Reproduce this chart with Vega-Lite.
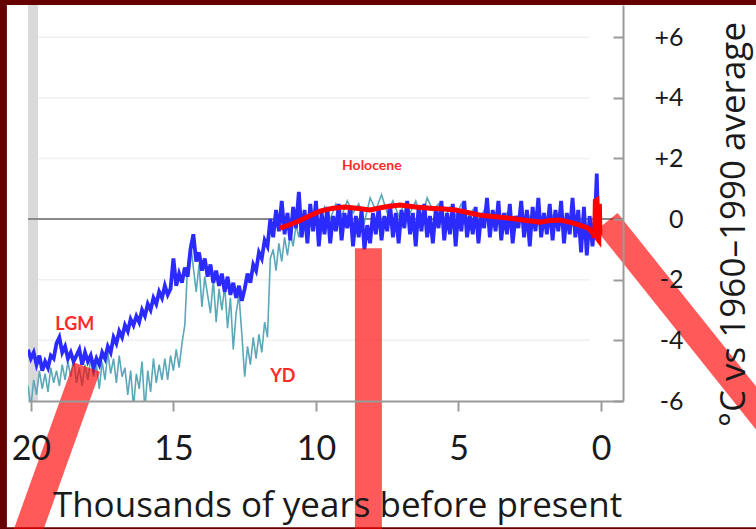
{
  "$schema": "https://vega.github.io/schema/vega-lite/v6.json",
  "width": 595,
  "height": 396,
  "autosize": "none",
  "padding": {"left": 28, "top": 5, "right": 133, "bottom": 128},
  "background": "#650000",
  "config": {"view": {"stroke": null}, "font": "Lato"},
  "data": {"values": [{}]},
  "datasets": {
    "blue": [
      {"kyr": 20.1, "temp": -4.3}, {"kyr": 20.0, "temp": -4.6}, {"kyr": 19.9, "temp": -4.4}, {"kyr": 19.8, "temp": -4.8}, {"kyr": 19.7, "temp": -4.5},
      {"kyr": 19.6, "temp": -5.0}, {"kyr": 19.5, "temp": -4.7}, {"kyr": 19.4, "temp": -4.9}, {"kyr": 19.3, "temp": -4.5}, {"kyr": 19.2, "temp": -4.6},
      {"kyr": 19.1, "temp": -4.1}, {"kyr": 19.0, "temp": -3.9}, {"kyr": 18.9, "temp": -4.4}, {"kyr": 18.8, "temp": -4.2}, {"kyr": 18.7, "temp": -4.6},
      {"kyr": 18.6, "temp": -4.4}, {"kyr": 18.5, "temp": -4.7}, {"kyr": 18.4, "temp": -4.5}, {"kyr": 18.3, "temp": -4.3}, {"kyr": 18.2, "temp": -4.8},
      {"kyr": 18.1, "temp": -4.4}, {"kyr": 18.0, "temp": -4.7}, {"kyr": 17.9, "temp": -4.5}, {"kyr": 17.8, "temp": -4.9}, {"kyr": 17.7, "temp": -4.6},
      {"kyr": 17.6, "temp": -4.8}, {"kyr": 17.5, "temp": -4.4}, {"kyr": 17.4, "temp": -4.6}, {"kyr": 17.3, "temp": -4.2}, {"kyr": 17.2, "temp": -4.4},
      {"kyr": 17.1, "temp": -3.9}, {"kyr": 17.0, "temp": -4.1}, {"kyr": 16.9, "temp": -3.7}, {"kyr": 16.8, "temp": -3.9}, {"kyr": 16.7, "temp": -3.5},
      {"kyr": 16.6, "temp": -3.7}, {"kyr": 16.5, "temp": -3.3}, {"kyr": 16.4, "temp": -3.5}, {"kyr": 16.3, "temp": -3.2}, {"kyr": 16.2, "temp": -3.4},
      {"kyr": 16.1, "temp": -3.0}, {"kyr": 16.0, "temp": -3.2}, {"kyr": 15.9, "temp": -2.8}, {"kyr": 15.8, "temp": -3.0}, {"kyr": 15.7, "temp": -2.6},
      {"kyr": 15.6, "temp": -2.8}, {"kyr": 15.5, "temp": -2.4}, {"kyr": 15.4, "temp": -2.6}, {"kyr": 15.3, "temp": -2.2}, {"kyr": 15.2, "temp": -2.5},
      {"kyr": 15.1, "temp": -2.3}, {"kyr": 15.0, "temp": -1.3}, {"kyr": 14.9, "temp": -2.2}, {"kyr": 14.8, "temp": -1.8}, {"kyr": 14.7, "temp": -2.1},
      {"kyr": 14.6, "temp": -1.6}, {"kyr": 14.5, "temp": -1.9}, {"kyr": 14.4, "temp": -1.0}, {"kyr": 14.3, "temp": -0.5}, {"kyr": 14.2, "temp": -1.4},
      {"kyr": 14.1, "temp": -1.1}, {"kyr": 14.0, "temp": -1.7}, {"kyr": 13.9, "temp": -1.3}, {"kyr": 13.8, "temp": -1.9}, {"kyr": 13.7, "temp": -1.5},
      {"kyr": 13.6, "temp": -2.1}, {"kyr": 13.5, "temp": -1.7}, {"kyr": 13.4, "temp": -2.2}, {"kyr": 13.3, "temp": -1.8}, {"kyr": 13.2, "temp": -2.4},
      {"kyr": 13.1, "temp": -1.9}, {"kyr": 13.0, "temp": -2.5}, {"kyr": 12.9, "temp": -2.1}, {"kyr": 12.8, "temp": -2.6}, {"kyr": 12.7, "temp": -2.2},
      {"kyr": 12.6, "temp": -2.7}, {"kyr": 12.5, "temp": -2.3}, {"kyr": 12.4, "temp": -1.8}, {"kyr": 12.3, "temp": -2.1}, {"kyr": 12.2, "temp": -1.5},
      {"kyr": 12.1, "temp": -1.7}, {"kyr": 12.0, "temp": -1.1}, {"kyr": 11.9, "temp": -1.3}, {"kyr": 11.8, "temp": -0.7}, {"kyr": 11.7, "temp": -0.9},
      {"kyr": 11.6, "temp": 0.0}, {"kyr": 11.5, "temp": -0.6}, {"kyr": 11.4, "temp": 0.3}, {"kyr": 11.3, "temp": -0.4}, {"kyr": 11.2, "temp": 0.6},
      {"kyr": 11.1, "temp": -0.5}, {"kyr": 11.0, "temp": 0.2}, {"kyr": 10.9, "temp": -0.7}, {"kyr": 10.8, "temp": 0.4}, {"kyr": 10.7, "temp": -0.3},
      {"kyr": 10.6, "temp": 0.9}, {"kyr": 10.5, "temp": -0.6}, {"kyr": 10.4, "temp": 0.3}, {"kyr": 10.3, "temp": -0.8}, {"kyr": 10.2, "temp": 0.5},
      {"kyr": 10.1, "temp": -0.4}, {"kyr": 10.0, "temp": 0.6}, {"kyr": 9.9, "temp": -0.9}, {"kyr": 9.8, "temp": 0.2}, {"kyr": 9.7, "temp": -0.5},
      {"kyr": 9.6, "temp": 0.4}, {"kyr": 9.5, "temp": -0.8}, {"kyr": 9.4, "temp": 0.1}, {"kyr": 9.3, "temp": -0.4}, {"kyr": 9.2, "temp": 0.5},
      {"kyr": 9.1, "temp": -0.7}, {"kyr": 9.0, "temp": 0.2}, {"kyr": 8.9, "temp": -0.3}, {"kyr": 8.8, "temp": 0.4}, {"kyr": 8.7, "temp": -0.9},
      {"kyr": 8.6, "temp": 0.1}, {"kyr": 8.5, "temp": -0.6}, {"kyr": 8.4, "temp": 0.3}, {"kyr": 8.3, "temp": -1.0}, {"kyr": 8.2, "temp": -0.2},
      {"kyr": 8.1, "temp": -0.8}, {"kyr": 8.0, "temp": 0.2}, {"kyr": 7.9, "temp": -0.5}, {"kyr": 7.8, "temp": 0.4}, {"kyr": 7.7, "temp": -0.7},
      {"kyr": 7.6, "temp": 0.1}, {"kyr": 7.5, "temp": -0.4}, {"kyr": 7.4, "temp": 0.5}, {"kyr": 7.3, "temp": -0.6}, {"kyr": 7.2, "temp": 0.2},
      {"kyr": 7.1, "temp": -0.8}, {"kyr": 7.0, "temp": 0.3}, {"kyr": 6.9, "temp": -0.3}, {"kyr": 6.8, "temp": 0.6}, {"kyr": 6.7, "temp": -0.5},
      {"kyr": 6.6, "temp": 0.2}, {"kyr": 6.5, "temp": -0.9}, {"kyr": 6.4, "temp": 0.4}, {"kyr": 6.3, "temp": -0.4}, {"kyr": 6.2, "temp": 0.5},
      {"kyr": 6.1, "temp": -0.6}, {"kyr": 6.0, "temp": 0.1}, {"kyr": 5.9, "temp": -0.8}, {"kyr": 5.8, "temp": 0.3}, {"kyr": 5.7, "temp": -0.3},
      {"kyr": 5.6, "temp": 0.6}, {"kyr": 5.5, "temp": -0.7}, {"kyr": 5.4, "temp": 0.2}, {"kyr": 5.3, "temp": -0.5}, {"kyr": 5.2, "temp": 0.5},
      {"kyr": 5.1, "temp": -0.9}, {"kyr": 5.0, "temp": 0.3}, {"kyr": 4.9, "temp": -0.4}, {"kyr": 4.8, "temp": 0.6}, {"kyr": 4.7, "temp": -0.6},
      {"kyr": 4.6, "temp": 0.1}, {"kyr": 4.5, "temp": -0.5}, {"kyr": 4.4, "temp": 0.4}, {"kyr": 4.3, "temp": -0.8}, {"kyr": 4.2, "temp": 0.2},
      {"kyr": 4.1, "temp": -0.3}, {"kyr": 4.0, "temp": 0.7}, {"kyr": 3.9, "temp": -0.6}, {"kyr": 3.8, "temp": 0.3}, {"kyr": 3.7, "temp": -0.4},
      {"kyr": 3.6, "temp": 0.6}, {"kyr": 3.5, "temp": -0.7}, {"kyr": 3.4, "temp": 0.2}, {"kyr": 3.3, "temp": -0.5}, {"kyr": 3.2, "temp": 0.5},
      {"kyr": 3.1, "temp": -0.8}, {"kyr": 3.0, "temp": 0.1}, {"kyr": 2.9, "temp": -0.3}, {"kyr": 2.8, "temp": 0.6}, {"kyr": 2.7, "temp": -0.6},
      {"kyr": 2.6, "temp": 0.3}, {"kyr": 2.5, "temp": -0.9}, {"kyr": 2.4, "temp": 0.4}, {"kyr": 2.3, "temp": -0.4}, {"kyr": 2.2, "temp": 0.7},
      {"kyr": 2.1, "temp": -0.6}, {"kyr": 2.0, "temp": 0.2}, {"kyr": 1.9, "temp": -0.5}, {"kyr": 1.8, "temp": 0.5}, {"kyr": 1.7, "temp": -0.7},
      {"kyr": 1.6, "temp": 0.3}, {"kyr": 1.5, "temp": -0.4}, {"kyr": 1.4, "temp": 0.6}, {"kyr": 1.3, "temp": -0.8}, {"kyr": 1.2, "temp": 0.2},
      {"kyr": 1.1, "temp": -0.5}, {"kyr": 1.0, "temp": 0.7}, {"kyr": 0.9, "temp": -0.6}, {"kyr": 0.8, "temp": 0.3}, {"kyr": 0.7, "temp": -1.1},
      {"kyr": 0.6, "temp": 0.4}, {"kyr": 0.5, "temp": -1.2}, {"kyr": 0.4, "temp": 0.1}, {"kyr": 0.3, "temp": -0.9}, {"kyr": 0.2, "temp": 0.3},
      {"kyr": 0.15, "temp": 1.5}, {"kyr": 0.1, "temp": -0.4}, {"kyr": 0.05, "temp": 0.5}
    ],
    "teal": [
      {"kyr": 20.1, "temp": -5.5}, {"kyr": 20.0, "temp": -6.2}, {"kyr": 19.9, "temp": -5.3}, {"kyr": 19.8, "temp": -5.8}, {"kyr": 19.7, "temp": -5.0},
      {"kyr": 19.6, "temp": -5.6}, {"kyr": 19.5, "temp": -5.1}, {"kyr": 19.4, "temp": -5.7}, {"kyr": 19.3, "temp": -4.9}, {"kyr": 19.2, "temp": -5.4},
      {"kyr": 19.1, "temp": -5.0}, {"kyr": 19.0, "temp": -5.5}, {"kyr": 18.9, "temp": -4.8}, {"kyr": 18.8, "temp": -5.3}, {"kyr": 18.7, "temp": -4.7},
      {"kyr": 18.6, "temp": -5.2}, {"kyr": 18.5, "temp": -4.6}, {"kyr": 18.4, "temp": -5.4}, {"kyr": 18.3, "temp": -4.9}, {"kyr": 18.2, "temp": -5.5},
      {"kyr": 18.1, "temp": -4.8}, {"kyr": 18.0, "temp": -5.3}, {"kyr": 17.9, "temp": -4.6}, {"kyr": 17.8, "temp": -5.2}, {"kyr": 17.7, "temp": -4.8},
      {"kyr": 17.6, "temp": -5.6}, {"kyr": 17.5, "temp": -4.7}, {"kyr": 17.4, "temp": -5.3}, {"kyr": 17.3, "temp": -4.4}, {"kyr": 17.2, "temp": -5.1},
      {"kyr": 17.1, "temp": -4.6}, {"kyr": 17.0, "temp": -5.4}, {"kyr": 16.9, "temp": -4.5}, {"kyr": 16.8, "temp": -5.2}, {"kyr": 16.7, "temp": -4.9},
      {"kyr": 16.6, "temp": -5.8}, {"kyr": 16.5, "temp": -5.0}, {"kyr": 16.4, "temp": -6.2}, {"kyr": 16.3, "temp": -5.1}, {"kyr": 16.2, "temp": -5.6},
      {"kyr": 16.1, "temp": -4.7}, {"kyr": 16.0, "temp": -6.3}, {"kyr": 15.9, "temp": -5.0}, {"kyr": 15.8, "temp": -5.7}, {"kyr": 15.7, "temp": -4.6},
      {"kyr": 15.6, "temp": -5.4}, {"kyr": 15.5, "temp": -4.8}, {"kyr": 15.4, "temp": -5.3}, {"kyr": 15.3, "temp": -4.6}, {"kyr": 15.2, "temp": -5.3},
      {"kyr": 15.1, "temp": -4.5}, {"kyr": 15.0, "temp": -5.0}, {"kyr": 14.9, "temp": -4.3}, {"kyr": 14.8, "temp": -4.9}, {"kyr": 14.7, "temp": -4.1},
      {"kyr": 14.6, "temp": -3.5}, {"kyr": 14.5, "temp": -1.5}, {"kyr": 14.4, "temp": -0.8}, {"kyr": 14.3, "temp": -1.6}, {"kyr": 14.2, "temp": -2.4},
      {"kyr": 14.1, "temp": -1.5}, {"kyr": 14.0, "temp": -2.9}, {"kyr": 13.9, "temp": -1.9}, {"kyr": 13.8, "temp": -2.5}, {"kyr": 13.7, "temp": -3.1},
      {"kyr": 13.6, "temp": -2.0}, {"kyr": 13.5, "temp": -3.4}, {"kyr": 13.4, "temp": -2.3}, {"kyr": 13.3, "temp": -3.0}, {"kyr": 13.2, "temp": -2.2},
      {"kyr": 13.1, "temp": -3.6}, {"kyr": 13.0, "temp": -2.6}, {"kyr": 12.9, "temp": -4.3}, {"kyr": 12.8, "temp": -3.1}, {"kyr": 12.7, "temp": -2.5},
      {"kyr": 12.6, "temp": -3.8}, {"kyr": 12.5, "temp": -5.2}, {"kyr": 12.4, "temp": -4.2}, {"kyr": 12.3, "temp": -4.8}, {"kyr": 12.2, "temp": -3.9},
      {"kyr": 12.1, "temp": -4.6}, {"kyr": 12.0, "temp": -3.8}, {"kyr": 11.9, "temp": -4.4}, {"kyr": 11.8, "temp": -3.4}, {"kyr": 11.7, "temp": -3.9},
      {"kyr": 11.6, "temp": -1.3}, {"kyr": 11.5, "temp": -1.0}, {"kyr": 11.4, "temp": -1.7}, {"kyr": 11.3, "temp": -0.8}, {"kyr": 11.2, "temp": -1.4},
      {"kyr": 11.1, "temp": -0.6}, {"kyr": 11.0, "temp": -1.2}, {"kyr": 10.9, "temp": -0.5}, {"kyr": 10.8, "temp": -0.9}, {"kyr": 10.7, "temp": -0.2},
      {"kyr": 10.6, "temp": -0.6}, {"kyr": 10.5, "temp": 0.0}, {"kyr": 10.3, "temp": -0.4}, {"kyr": 10.1, "temp": 0.2}, {"kyr": 9.9, "temp": -0.2},
      {"kyr": 9.7, "temp": 0.4}, {"kyr": 9.5, "temp": 0.0}, {"kyr": 9.3, "temp": 0.5}, {"kyr": 9.1, "temp": 0.1}, {"kyr": 8.9, "temp": 0.6},
      {"kyr": 8.7, "temp": 0.2}, {"kyr": 8.5, "temp": 0.5}, {"kyr": 8.3, "temp": -0.1}, {"kyr": 8.1, "temp": 0.7}, {"kyr": 7.9, "temp": 0.3},
      {"kyr": 7.7, "temp": 0.8}, {"kyr": 7.5, "temp": 0.2}, {"kyr": 7.3, "temp": 0.6}, {"kyr": 7.1, "temp": 0.1}, {"kyr": 6.9, "temp": 0.5},
      {"kyr": 6.7, "temp": 0.2}, {"kyr": 6.5, "temp": 0.6}, {"kyr": 6.3, "temp": 0.0}, {"kyr": 6.1, "temp": 0.7}, {"kyr": 5.9, "temp": 0.3},
      {"kyr": 5.7, "temp": 0.5}, {"kyr": 5.5, "temp": 0.0}, {"kyr": 5.3, "temp": 0.4}, {"kyr": 5.1, "temp": 0.1}, {"kyr": 4.9, "temp": 0.5},
      {"kyr": 4.7, "temp": 0.0}, {"kyr": 4.5, "temp": 0.3}, {"kyr": 4.3, "temp": -0.1}, {"kyr": 4.1, "temp": 0.3}, {"kyr": 3.9, "temp": -0.2},
      {"kyr": 3.7, "temp": 0.2}, {"kyr": 3.5, "temp": -0.1}, {"kyr": 3.3, "temp": 0.2}, {"kyr": 3.1, "temp": -0.2}, {"kyr": 2.9, "temp": 0.1},
      {"kyr": 2.7, "temp": -0.2}, {"kyr": 2.5, "temp": 0.1}, {"kyr": 2.3, "temp": -0.3}, {"kyr": 2.1, "temp": 0.0}, {"kyr": 1.9, "temp": -0.2},
      {"kyr": 1.7, "temp": 0.1}, {"kyr": 1.5, "temp": -0.3}, {"kyr": 1.3, "temp": 0.0}, {"kyr": 1.1, "temp": -0.3}, {"kyr": 0.9, "temp": -0.1},
      {"kyr": 0.7, "temp": -0.4}, {"kyr": 0.5, "temp": -0.2}, {"kyr": 0.3, "temp": -0.4}
    ],
    "red": [
      {"kyr": 11.26, "temp": -0.3}, {"kyr": 10.9, "temp": -0.18}, {"kyr": 10.56, "temp": -0.05}, {"kyr": 10.2, "temp": 0.12}, {"kyr": 9.86, "temp": 0.26},
      {"kyr": 9.4, "temp": 0.36}, {"kyr": 9.0, "temp": 0.4}, {"kyr": 8.5, "temp": 0.35}, {"kyr": 8.1, "temp": 0.3}, {"kyr": 7.6, "temp": 0.4},
      {"kyr": 7.05, "temp": 0.46}, {"kyr": 6.5, "temp": 0.4}, {"kyr": 6.0, "temp": 0.36}, {"kyr": 5.5, "temp": 0.33}, {"kyr": 5.1, "temp": 0.3},
      {"kyr": 4.6, "temp": 0.2}, {"kyr": 4.25, "temp": 0.13}, {"kyr": 3.7, "temp": 0.08}, {"kyr": 3.2, "temp": 0.03}, {"kyr": 2.6, "temp": -0.05},
      {"kyr": 2.14, "temp": -0.1}, {"kyr": 1.8, "temp": -0.05}, {"kyr": 1.44, "temp": -0.03}, {"kyr": 1.1, "temp": -0.1}, {"kyr": 0.74, "temp": -0.2},
      {"kyr": 0.45, "temp": -0.3}, {"kyr": 0.3, "temp": -0.45}, {"kyr": 0.22, "temp": -0.6}, {"kyr": 0.2, "temp": 0.6}, {"kyr": 0.15, "temp": 0.63},
      {"kyr": 0.12, "temp": -0.65}, {"kyr": 0.08, "temp": -0.7}, {"kyr": 0.06, "temp": 0.5}, {"kyr": 0.04, "temp": -0.5}
    ],
    "gridlines": [{"temp": 6}, {"temp": 4}, {"temp": 2}, {"temp": -2}, {"temp": -4}],
    "labels": [
      {"kyr": 18.46, "temp": -3.5, "name": "LGM"},
      {"kyr": 11.16, "temp": -5.2, "name": "YD"}
    ]
  },
  "layer": [
    {
      "mark": {"type": "rect", "color": "#ffffff", "clip": false},
      "encoding": {
        "x": {"datum": 20.84, "type": "quantitative"},
        "x2": {"datum": -5.58},
        "y": {"datum": 7.06, "type": "quantitative"},
        "y2": {"datum": -10.16}
      }
    },
    {
      "mark": {"type": "rect", "color": "#d9d9d9"},
      "encoding": {
        "x": {"datum": 20.1, "type": "quantitative"},
        "x2": {"datum": 19.75},
        "y": {"datum": 7.06, "type": "quantitative"},
        "y2": {"datum": -6}
      }
    },
    {
      "data": {"name": "gridlines"},
      "mark": {"type": "rule", "color": "#f0f0f0", "strokeWidth": 1.5},
      "encoding": {
        "x": {"datum": 19.75, "type": "quantitative"},
        "x2": {"datum": 0.4},
        "y": {"field": "temp", "type": "quantitative"}
      }
    },
    {
      "mark": {"type": "rule", "color": "#8a8a8a", "strokeWidth": 2},
      "encoding": {
        "x": {"datum": 20.1, "type": "quantitative"},
        "x2": {"datum": -0.77},
        "y": {"datum": 0, "type": "quantitative"}
      }
    },
    {
      "data": {"name": "teal"},
      "mark": {"type": "line", "color": "#5aa8b8", "strokeWidth": 1.6, "clip": true},
      "encoding": {
        "x": {"field": "kyr", "type": "quantitative"},
        "y": {"field": "temp", "type": "quantitative"}
      }
    },
    {
      "data": {"name": "blue"},
      "mark": {"type": "line", "color": "#2b2bff", "strokeWidth": 3.8, "clip": true},
      "encoding": {
        "x": {
          "field": "kyr",
          "type": "quantitative",
          "title": "Thousands of years before present",
          "scale": {"domain": [-0.77, 20.1], "reverse": true, "nice": false, "zero": false},
          "axis": {
            "orient": "bottom",
            "values": [20, 15, 10, 5, 0],
            "grid": false,
            "zindex": 1,
            "domainColor": "#9a9a9a",
            "domainWidth": 2,
            "tickColor": "#9a9a9a",
            "tickWidth": 2,
            "tickSize": 10,
            "labelFont": "Lato",
            "labelFontSize": 34,
            "labelColor": "#1a1a1a",
            "labelPadding": 21,
            "labelFlush": false,
            "titleFont": "Open Sans",
            "titleFontSize": 35,
            "titleFontWeight": "normal",
            "titleColor": "#1a1a1a",
            "titlePadding": 22,
            "titleX": 309
          }
        },
        "y": {
          "field": "temp",
          "type": "quantitative",
          "title": "°C vs 1960–1990 average",
          "scale": {"domain": [-6, 7.06], "nice": false, "zero": false},
          "axis": {
            "orient": "right",
            "values": [-6, -4, -2, 0, 2, 4, 6],
            "grid": false,
            "zindex": 1,
            "domainColor": "#9a9a9a",
            "domainWidth": 2,
            "tickColor": "#9a9a9a",
            "tickWidth": 2,
            "tickSize": -10,
            "labelExpr": "datum.value > 0 ? '+' + datum.value : (datum.value < 0 ? '-' + abs(datum.value) : '0')",
            "labelFont": "Lato",
            "labelFontSize": 25,
            "labelColor": "#1a1a1a",
            "labelAlign": "right",
            "labelPadding": 70,
            "labelFlush": false,
            "titleFont": "Open Sans",
            "titleFontSize": 35,
            "titleFontWeight": "normal",
            "titleColor": "#1a1a1a",
            "titleAngle": 270,
            "titleX": 110,
            "titleY": 219,
            "titleAlign": "center",
            "titleBaseline": "middle"
          }
        }
      }
    },
    {
      "data": {"name": "red"},
      "mark": {"type": "line", "color": "#ff0000", "strokeWidth": 5, "clip": true},
      "encoding": {
        "x": {"field": "kyr", "type": "quantitative"},
        "y": {"field": "temp", "type": "quantitative"}
      }
    },
    {
      "data": {"name": "labels"},
      "mark": {"type": "text", "color": "#ff2a2a", "font": "Lato", "fontSize": 18, "fontWeight": "bold"},
      "encoding": {
        "x": {"field": "kyr", "type": "quantitative"},
        "y": {"field": "temp", "type": "quantitative"},
        "text": {"field": "name"}
      }
    },
    {
      "mark": {"type": "text", "color": "#ff2a2a", "font": "Lato", "fontSize": 14, "fontWeight": "bold"},
      "encoding": {
        "x": {"datum": 8.04, "type": "quantitative"},
        "y": {"datum": 1.75, "type": "quantitative"},
        "text": {"value": "Holocene"}
      }
    },
    {
      "mark": {"type": "rule", "color": "#ff0000", "opacity": 0.65, "strokeWidth": 28, "strokeCap": "butt", "clip": false},
      "encoding": {
        "x": {"datum": 18.035, "type": "quantitative"},
        "y": {"datum": -4.88, "type": "quantitative"},
        "x2": {"datum": 20.46},
        "y2": {"datum": -11.24}
      }
    },
    {
      "mark": {"type": "rule", "color": "#ff0000", "opacity": 0.65, "strokeWidth": 27, "strokeCap": "butt", "clip": false},
      "encoding": {
        "x": {"datum": 8.16, "type": "quantitative"},
        "y": {"datum": -0.96, "type": "quantitative"},
        "y2": {"datum": -11.2}
      }
    },
    {
      "mark": {"type": "rule", "color": "#ff0000", "opacity": 0.65, "strokeWidth": 27, "strokeCap": "butt", "clip": false},
      "encoding": {
        "x": {"datum": -0.21, "type": "quantitative"},
        "y": {"datum": -0.08, "type": "quantitative"},
        "x2": {"datum": -7.68},
        "y2": {"datum": -8.87}
      }
    }
  ]
}
